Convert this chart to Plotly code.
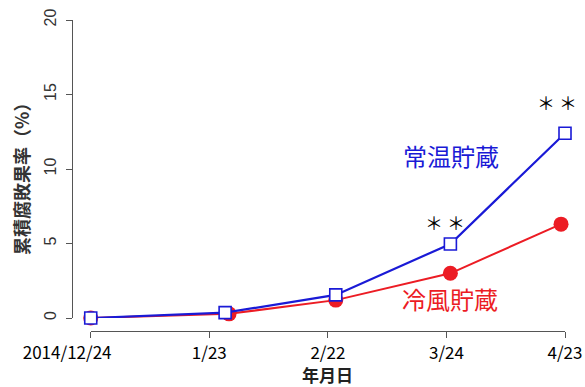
import plotly.graph_objects as go

# ---- data ----
tick_dates = ["2014-12-24", "2015-01-23", "2015-02-22", "2015-03-24", "2015-04-23"]
tick_labels = ["2014/12/24", "1/23", "2/22", "3/24", "4/23"]

room_dates = ["2014-12-24", "2015-01-27", "2015-02-24", "2015-03-25", "2015-04-23"]
room_values = [0.0, 0.36, 1.55, 4.97, 12.4]
cold_dates = ["2014-12-24", "2015-01-28", "2015-02-24", "2015-03-25", "2015-04-22"]
cold_values = [0.0, 0.28, 1.2, 3.0, 6.3]

room_name = "常温貯蔵"
cold_name = "冷風貯蔵"
y_title = "累積腐敗果率（%）"
x_title = "年月日"
y_ticks = [0, 5, 10, 15, 20]

FONT = "Noto Sans CJK JP"
BLUE = "#1a1ad6"
RED = "#ec1c24"
AXC = "#555555"

# the first tick label sits left of its tick in the original (trailing figure spaces)
FS = "\u2007"
tick_text = [tick_labels[0] + FS * 5] + tick_labels[1:]

fig = go.Figure()
fig.add_trace(go.Scatter(
    x=cold_dates, y=cold_values, mode="lines+markers", name=cold_name,
    line=dict(color=RED, width=2),
    marker=dict(symbol="circle", size=15, color=RED),
    cliponaxis=False, showlegend=False))
fig.add_trace(go.Scatter(
    x=room_dates, y=room_values, mode="lines+markers", name=room_name,
    line=dict(color=BLUE, width=2.2),
    marker=dict(symbol="square", size=12, color="white",
                line=dict(color=BLUE, width=1.6)),
    cliponaxis=False, showlegend=False))

fig.update_layout(
    width=585, height=387,
    margin=dict(l=72, r=20, t=20, b=56, autoexpand=False),
    plot_bgcolor="white", paper_bgcolor="white",
    font=dict(family=FONT, color="black"),
    xaxis=dict(
        domain=[0.038, 1], anchor="free", position=0, automargin=False,
        range=[tick_dates[0], tick_dates[-1]],
        tickvals=tick_dates, ticktext=tick_text,
        showgrid=False, zeroline=False,
        showline=True, linecolor=AXC, linewidth=1.3,
        ticks="outside", ticklen=6, tickcolor=AXC, tickwidth=1.3,
        tickfont=dict(size=17, family=FONT, color="black"),
    ),
    yaxis=dict(
        domain=[0.0418, 1], anchor="free", position=0, automargin=False,
        range=[0, 20], tickvals=y_ticks,
        showgrid=False, zeroline=False,
        showline=True, linecolor=AXC, linewidth=1.3,
        ticks="outside", ticklen=6, tickcolor=AXC, tickwidth=1.3,
        tickangle=-90, ticklabelstandoff=3,
        tickfont=dict(size=16, family="Liberation Sans", color="#333333"),
    ),
    annotations=[
        dict(text="<b>" + y_title + "</b>", xref="paper", yref="paper", x=-0.1035, y=0.505,
             textangle=-90, showarrow=False, xanchor="center", yanchor="middle",
             font=dict(size=18, family=FONT, color="#333333")),
        dict(text="<b>" + x_title + "</b>", xref="paper", yref="paper", x=0.519, y=-0.1385,
             showarrow=False, xanchor="center", yanchor="middle",
             font=dict(size=17, family=FONT, color="#222222")),
        dict(text=room_name, xref="paper", yref="y", x=0.769, y=10.9,
             showarrow=False, xanchor="center", yanchor="middle",
             font=dict(size=24, family=FONT, color=BLUE)),
        dict(text=cold_name, xref="paper", yref="y", x=0.767, y=1.34,
             showarrow=False, xanchor="center", yanchor="middle",
             font=dict(size=24, family=FONT, color=RED)),
        dict(text="＊ ＊", xref="paper", yref="y", x=(444.5 - 72) / 493, y=6.45,
             showarrow=False, xanchor="center", yanchor="middle",
             font=dict(size=18, family=FONT, color="black")),
        dict(text="＊ ＊", xref="paper", yref="y", x=(556.5 - 72) / 493, y=14.5,
             showarrow=False, xanchor="center", yanchor="middle",
             font=dict(size=18, family=FONT, color="black")),
    ],
)

fig.write_html("out.html")
